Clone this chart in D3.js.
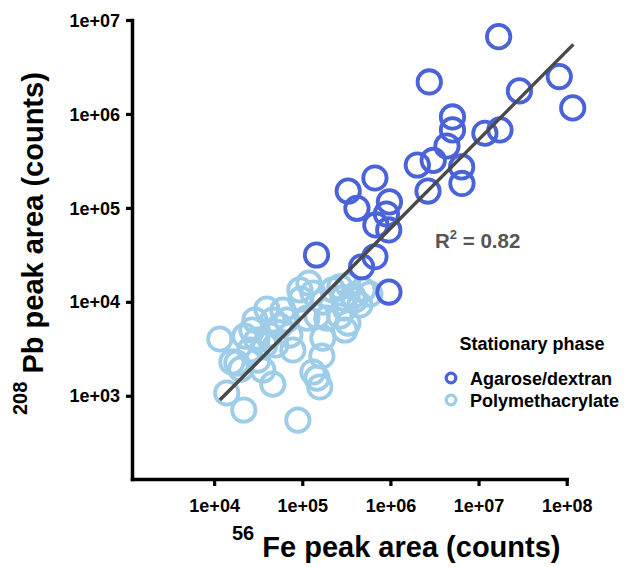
<!DOCTYPE html>
<html>
<head>
<meta charset="utf-8">
<script src="https://cdn.jsdelivr.net/npm/d3@7"></script>
<style>
  html, body { margin: 0; padding: 0; background: #fff; }
  svg { display: block; font-family: "Liberation Sans", Arial, Helvetica, sans-serif; font-weight: bold; }
</style>
</head>
<body>
<svg id="chart" width="626" height="567"></svg>
<script>
// ---- Data ----
const agaroseFe = [1.69e7, 2.76e6, 8.24e7, 1.17e8, 2.91e7, 5.06e6, 5.06e6, 1.18e7, 1.75e7, 4.38e6,
  3.06e6, 2.02e6, 6.43e6, 6.48e6, 2.67e6, 6.67e5, 3.32e5, 4.17e5, 9.75e5, 9.01e5,
  6.84e5, 9.57e5, 1.45e5, 6.67e5, 4.71e5, 9.62e5];
const agarosePb = [6.65e6, 2.19e6, 2.50e6, 1.16e6, 1.76e6, 9.29e5, 6.76e5, 6.23e5, 6.76e5, 4.56e5,
  3.20e5, 2.86e5, 2.73e5, 1.82e5, 1.51e5, 2.08e5, 1.51e5, 9.9e4, 1.16e5, 8.61e4,
  6.58e4, 5.82e4, 3.15e4, 3.02e4, 2.36e4, 1.27e4];

const polyFe = [1.16e4, 2.23e4, 3.05e4, 3.96e4, 4.63e4, 5.57e4, 6.68e4, 3.76e4, 1.81e4, 2.01e4,
  3.13e4, 3.57e4, 4.63e4, 1.39e4, 2.17e4, 8.91e4, 7.82e4, 9.40e4, 1.19e5, 1.32e5,
  9.64e4, 1.13e5, 1.47e5, 1.71e5, 1.67e5, 1.32e5, 1.47e5, 1.58e5, 2.22e5, 2.67e5,
  3.30e5, 3.75e5, 4.88e5, 5.85e5, 2.89e5, 3.95e5, 4.51e5, 3.05e5, 2.67e5, 3.30e5,
  3.05e5, 1.90e5, 1.71e5, 2.68e4, 4.29e4, 5.01e4, 2.54e4, 6.03e4, 7.23e4, 1.59e4, 2.90e4];
const polyPb = [4.02e3, 4.32e3, 3.92e3, 8.38e3, 6.40e3, 5.52e3, 6.40e3, 3.47e3, 2.23e3, 1.92e3,
  2.40e3, 1.88e3, 1.33e3, 1.07e3, 705, 551, 3.07e3, 1.34e4, 1.58e4, 1.24e4,
  1.07e4, 6.71e3, 7.06e3, 4.11e3, 2.65e3, 1.79e3, 1.54e3, 1.24e3, 1.34e4, 1.44e4,
  1.51e4, 1.15e4, 1.34e4, 1.21e4, 1.10e4, 1.05e4, 9.25e3, 8.59e3, 7.06e3, 5.94e3,
  5.01e3, 6.71e3, 9.95e3, 5.01e3, 4.43e3, 3.47e3, 3.07e3, 8.18e3, 4.43e3, 2.29e3, 6.40e3];

const fitFe = [1.16e4, 1.19e8];
const fitPb = [900, 5.5e6];

const xTicks = [1e4, 1e5, 1e6, 1e7, 1e8];
const yTicks = [1e3, 1e4, 1e5, 1e6, 1e7];
const tickLabel = v => "1e+" + String(Math.round(Math.log10(v))).padStart(2, "0");

const seriesNames = ["Agarose/dextran", "Polymethacrylate"];
const seriesColors = ["#4a63d9", "#9dcde9"];
const legendTitle = "Stationary phase";
const r2Text = "0.82";

// ---- Chart ----
const svg = d3.select("#chart");
const x = d3.scaleLog().domain([1170, 1e8]).range([132, 566.7]);
const y = d3.scaleLog().domain([130, 1e7]).range([479, 20]);

// axes
const xAxis = d3.axisBottom(x).tickValues(xTicks).tickFormat(tickLabel).tickSizeInner(7).tickSizeOuter(0).tickPadding(13);
const yAxis = d3.axisLeft(y).tickValues(yTicks).tickFormat(tickLabel).tickSizeInner(6).tickSizeOuter(0).tickPadding(6);

const gx = svg.append("g").attr("transform", "translate(0,479)").call(xAxis);
const gy = svg.append("g").attr("transform", "translate(132,0)").call(yAxis);
[gx, gy].forEach(g => {
  g.select(".domain").attr("stroke", "#000").attr("stroke-width", 3.5).attr("stroke-linecap", "square");
  g.selectAll(".tick line").attr("stroke", "#000").attr("stroke-width", 3.2);
  g.selectAll(".tick text").attr("fill", "#000").attr("font-size", 18).attr("font-weight", "bold")
    .attr("font-family", "'Liberation Sans', Arial, sans-serif");
});
gy.selectAll(".tick text").attr("dy", "0.34em");

// points
const agData = agaroseFe.map((v, i) => [v, agarosePb[i]]);
const poData = polyFe.map((v, i) => [v, polyPb[i]]);

svg.append("g").selectAll("circle").data(poData).join("circle")
  .attr("cx", d => x(d[0])).attr("cy", d => y(d[1])).attr("r", 11.7)
  .attr("fill", "none").attr("stroke", seriesColors[1]).attr("stroke-width", 3.8);

svg.append("g").selectAll("circle").data(agData).join("circle")
  .attr("cx", d => x(d[0])).attr("cy", d => y(d[1])).attr("r", 11.7)
  .attr("fill", "none").attr("stroke", seriesColors[0]).attr("stroke-width", 3.8);

// regression line
svg.append("line")
  .attr("x1", x(fitFe[0])).attr("y1", y(fitPb[0]))
  .attr("x2", x(fitFe[1])).attr("y2", y(fitPb[1]))
  .attr("stroke", "#4a4a4a").attr("stroke-width", 3.5);

// R^2 annotation
const r2 = svg.append("text").attr("x", 435).attr("y", 248).attr("fill", "#555").attr("font-size", 20.5);
r2.append("tspan").text("R");
r2.append("tspan").attr("font-size", 13).attr("dy", -9).text("2");
r2.append("tspan").attr("dy", 9).text(" = " + r2Text);

// axis titles
const xt = svg.append("text").attr("x", 232).attr("y", 557).attr("fill", "#000");
xt.append("tspan").attr("font-size", 20).attr("dy", -17).text("56");
xt.append("tspan").attr("font-size", 29).attr("dy", 17).text(" Fe peak area (counts)");

const yt = svg.append("text").attr("transform", "translate(43,415) rotate(-90)").attr("fill", "#000");
yt.append("tspan").attr("font-size", 20).attr("dy", -16).text("208");
yt.append("tspan").attr("font-size", 29).attr("dy", 16).text(" Pb peak area (counts)");

// legend
const lg = svg.append("g");
lg.append("text").attr("x", 532).attr("y", 349.5).attr("text-anchor", "middle").attr("font-size", 18).attr("fill", "#000").text(legendTitle);
const items = lg.selectAll("g.item").data(seriesNames).join("g").attr("class", "item")
  .attr("transform", (d, i) => `translate(0,${378 + i * 22})`);
items.append("circle").attr("cx", 451).attr("cy", 0).attr("r", 4.8)
  .attr("fill", "none").attr("stroke", (d, i) => seriesColors[i]).attr("stroke-width", 3.3);
items.append("text").attr("x", 470).attr("y", 6.5).attr("font-size", 18).attr("fill", "#000").text(d => d);
</script>
</body>
</html>
